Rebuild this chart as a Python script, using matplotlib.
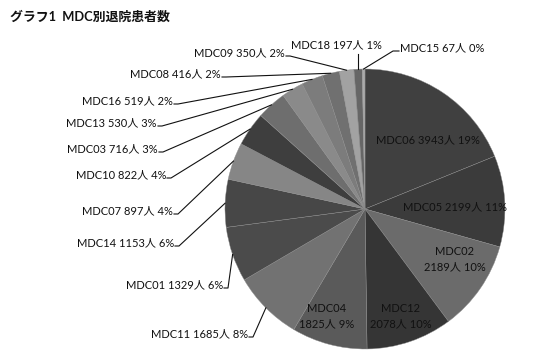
import numpy as np
import matplotlib
matplotlib.use("Agg")
import matplotlib.pyplot as plt

# data, clockwise from 12 o'clock
codes = ['MDC06', 'MDC05', 'MDC02', 'MDC12', 'MDC04', 'MDC11', 'MDC01', 'MDC14', 'MDC07',
         'MDC10', 'MDC03', 'MDC13', 'MDC16', 'MDC08', 'MDC09', 'MDC18', 'MDC15']
counts = [3943, 2199, 2189, 2078, 1825, 1685, 1329, 1153, 897,
          822, 716, 530, 519, 416, 350, 197, 67]
shares = ['19%', '11%', '10%', '10%', '9%', '8%', '6%', '6%', '4%',
          '4%', '3%', '3%', '2%', '2%', '2%', '1%', '0%']

colors = ['#404040', '#3b3b3b', '#6b6b6b', '#353535', '#5a5a5a', '#727272', '#4b4b4b', '#474747',
          '#868686', '#3e3e3e', '#6e6e6e', '#8a8a8a', '#7c7c7c', '#707070', '#a2a2a2', '#666666', '#aaaaaa']

fonts = ['Lato', 'Noto Sans CJK JP']

fig = plt.figure(figsize=(5.5, 3.61), dpi=100)
ax = fig.add_axes([0, 0, 1, 1])

cx, cy, R = 365, 209, 140
# y axis is inverted (pixel coords), so counterclock in data = clockwise on screen
wedges, _ = ax.pie(counts, colors=colors, startangle=-90, counterclock=True,
                   center=(cx, cy), radius=R,
                   wedgeprops=dict(edgecolor='#8c8c8c', linewidth=0.3))
ax.set_xlim(0, 550)
ax.set_ylim(361, 0)
ax.set_aspect('equal')
ax.axis('off')

def lab(i, two_lines=False):
    if two_lines:
        return '%s\n%d人 %s' % (codes[i], counts[i], shares[i])
    return '%s %d人 %s' % (codes[i], counts[i], shares[i])

def edge_point(i, r=1.0):
    w = wedges[i]
    a = np.deg2rad((w.theta1 + w.theta2) / 2)
    return cx + R * r * np.cos(a), cy + R * r * np.sin(a)

# labels inside the pie
inside = {0: (428, 140, False), 1: (455, 207, False), 2: (455, 259, True),
          3: (401, 316, True), 4: (327, 316, True)}
for i, (x, y, two) in inside.items():
    ax.text(x, y, lab(i, two), ha='center', va='center', fontsize=8,
            family=fonts, color='#111111', linespacing=1.45)

# labels outside with leader lines: right end x, centre y
outside = {5: (248, 334), 6: (223, 285), 7: (174, 243), 8: (173, 211), 9: (166, 175),
           10: (158, 149), 11: (157, 123), 12: (173, 101), 13: (221, 74), 14: (285, 53)}
for i, (x, y) in outside.items():
    ax.text(x, y, lab(i), ha='right', va='center', fontsize=8, family=fonts, color='#111111')
    ex, ey = edge_point(i)
    ax.plot([x + 1, x + 5, ex], [y + 3, y + 3, ey], color='#111111', lw=0.8)

# MDC18: label above with vertical leader
ex, ey = edge_point(15)
ax.text(336, 45, lab(15), ha='center', va='center', fontsize=8, family=fonts, color='#111111')
ax.plot([ex, ex], [54, ey], color='#111111', lw=0.8)

# MDC15: label to the upper right
ex, ey = edge_point(16)
ax.text(400, 48, lab(16), ha='left', va='center', fontsize=8, family=fonts, color='#111111')
ax.plot([ex, 393, 399], [ey, 51, 51], color='#111111', lw=0.8)

ax.text(10, 17, 'グラフ1  MDC別退院患者数', ha='left', va='center', fontsize=9.3,
        fontweight='bold', family=fonts, color='#111111')

fig.savefig('out.png', dpi=100)
